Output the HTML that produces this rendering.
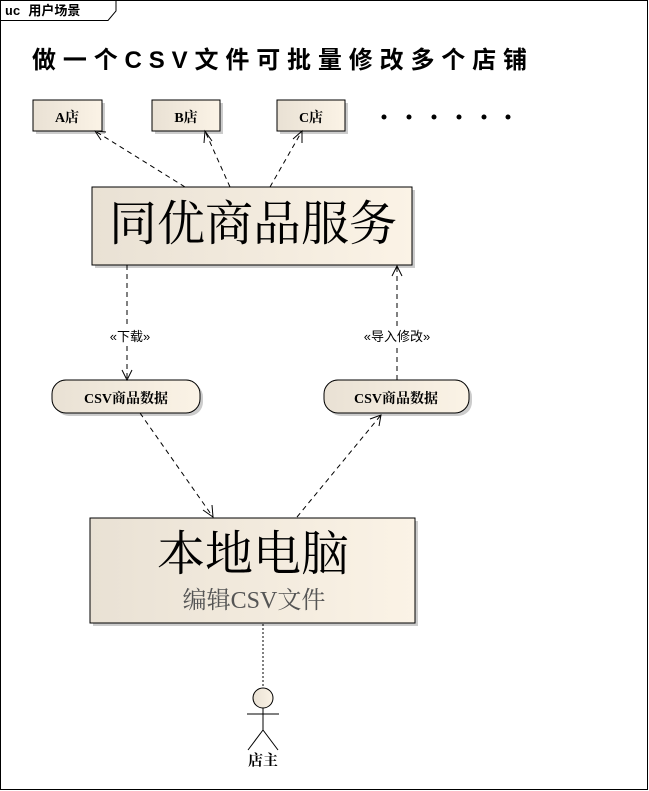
<!DOCTYPE html>
<html><head><meta charset="utf-8"><style>
html,body{margin:0;padding:0;background:#fff;}
svg{display:block;font-family:"Liberation Serif","Noto Serif CJK SC",serif;}
</style></head><body>
<svg width="649" height="791" viewBox="0 0 649 791" xmlns="http://www.w3.org/2000/svg">
<defs>
<linearGradient id="g" x1="0" y1="0" x2="1" y2="0">
<stop offset="0" stop-color="#e9e1d4"/><stop offset="1" stop-color="#fbf3e6"/>
</linearGradient>
</defs>
<rect x="0.5" y="0.5" width="647" height="789" fill="#fff" stroke="#000"/>
<path d="M0.5 20.5 H108 L116 11 V0.5" fill="none" stroke="#000"/>
<text x="5" y="15" font-size="13" font-weight="bold" font-family="Liberation Mono,Noto Sans CJK SC,monospace">uc 用户场景</text>
<text x="32" y="68" font-size="24" font-weight="bold" font-family="Liberation Sans,Noto Sans CJK SC,sans-serif" textLength="495">做一个CSV文件可批量修改多个店铺</text>

<g stroke="#000" fill="url(#g)">
<rect x="36" y="103" width="69" height="31" fill="#ccc" stroke="none"/>
<rect x="33" y="100" width="69" height="31"/>
<rect x="155" y="103" width="68" height="31" fill="#ccc" stroke="none"/>
<rect x="152" y="100" width="68" height="31"/>
<rect x="280" y="103" width="68" height="31" fill="#ccc" stroke="none"/>
<rect x="277" y="100" width="68" height="31"/>
<rect x="95" y="190" width="320" height="78" fill="#ccc" stroke="none"/>
<rect x="92" y="187" width="320" height="78"/>
<rect x="55" y="383" width="148" height="33" rx="14" fill="#ccc" stroke="none"/>
<rect x="52" y="380" width="148" height="33" rx="14"/>
<rect x="327" y="383" width="145" height="33" rx="14" fill="#ccc" stroke="none"/>
<rect x="324" y="380" width="145" height="33" rx="14"/>
<rect x="93" y="521" width="325" height="105" fill="#ccc" stroke="none"/>
<rect x="90" y="518" width="325" height="105"/>
</g>
<g font-size="14" font-weight="bold" text-anchor="middle">
<text x="67" y="122">A店</text><text x="186" y="122">B店</text><text x="311" y="122">C店</text>
<text x="126" y="403">CSV商品数据</text><text x="396" y="403">CSV商品数据</text>
</g>
<g fill="#000"><circle cx="384" cy="117" r="2.5"/><circle cx="409" cy="117" r="2.5"/><circle cx="434" cy="117" r="2.5"/><circle cx="459" cy="117" r="2.5"/><circle cx="484" cy="117" r="2.5"/><circle cx="508" cy="117" r="2.5"/></g>
<text x="253" y="240" font-size="48" text-anchor="middle">同优商品服务</text>
<text x="253" y="570" font-size="48" text-anchor="middle">本地电脑</text>
<text x="254" y="608" font-size="24" text-anchor="middle" fill="#555">编辑CSV文件</text>

<g stroke="#000" fill="none" stroke-dasharray="5,4">
<line x1="185" y1="187" x2="95" y2="131"/>
<line x1="230" y1="187" x2="205" y2="131"/>
<line x1="270" y1="187" x2="302" y2="131"/>
<line x1="127" y1="265" x2="127" y2="380"/>
<line x1="397" y1="380" x2="397" y2="266"/>
<line x1="140" y1="413" x2="213" y2="517"/>
<line x1="297" y1="517" x2="381" y2="415"/>
</g>
<line x1="263" y1="624" x2="263" y2="688" stroke="#000" stroke-dasharray="2,2"/>
<g stroke="#000" fill="none">
<path d="M106 132 L95 131 L101 140"/>
<path d="M204 143 L205 131 L212 141"/>
<path d="M293 139 L302 131 L302 143"/>
<path d="M122 370 L127 380 L132 370"/>
<path d="M392 276 L397 266 L402 276"/>
<path d="M203 510 L213 517 L212 505"/>
<path d="M370 419 L381 415 L379 426"/>
</g>
<rect x="110" y="328" width="40" height="16" fill="#fff"/>
<text x="130" y="341" font-size="13" text-anchor="middle" font-family="Liberation Sans,Noto Sans CJK SC,sans-serif">«下载»</text>
<rect x="356" y="328" width="82" height="16" fill="#fff"/>
<text x="397" y="341" font-size="13" text-anchor="middle" font-family="Liberation Sans,Noto Sans CJK SC,sans-serif">«导入修改»</text>

<g stroke="#000" fill="none">
<circle cx="263" cy="698" r="10" fill="url(#g)"/>
<line x1="263" y1="708" x2="263" y2="730"/>
<line x1="247" y1="714" x2="279" y2="714"/>
<line x1="263" y1="730" x2="248" y2="750"/>
<line x1="263" y1="730" x2="278" y2="750"/>
</g>
<text x="263" y="765" font-size="15" font-weight="bold" text-anchor="middle">店主</text>
</svg>
</body></html>
